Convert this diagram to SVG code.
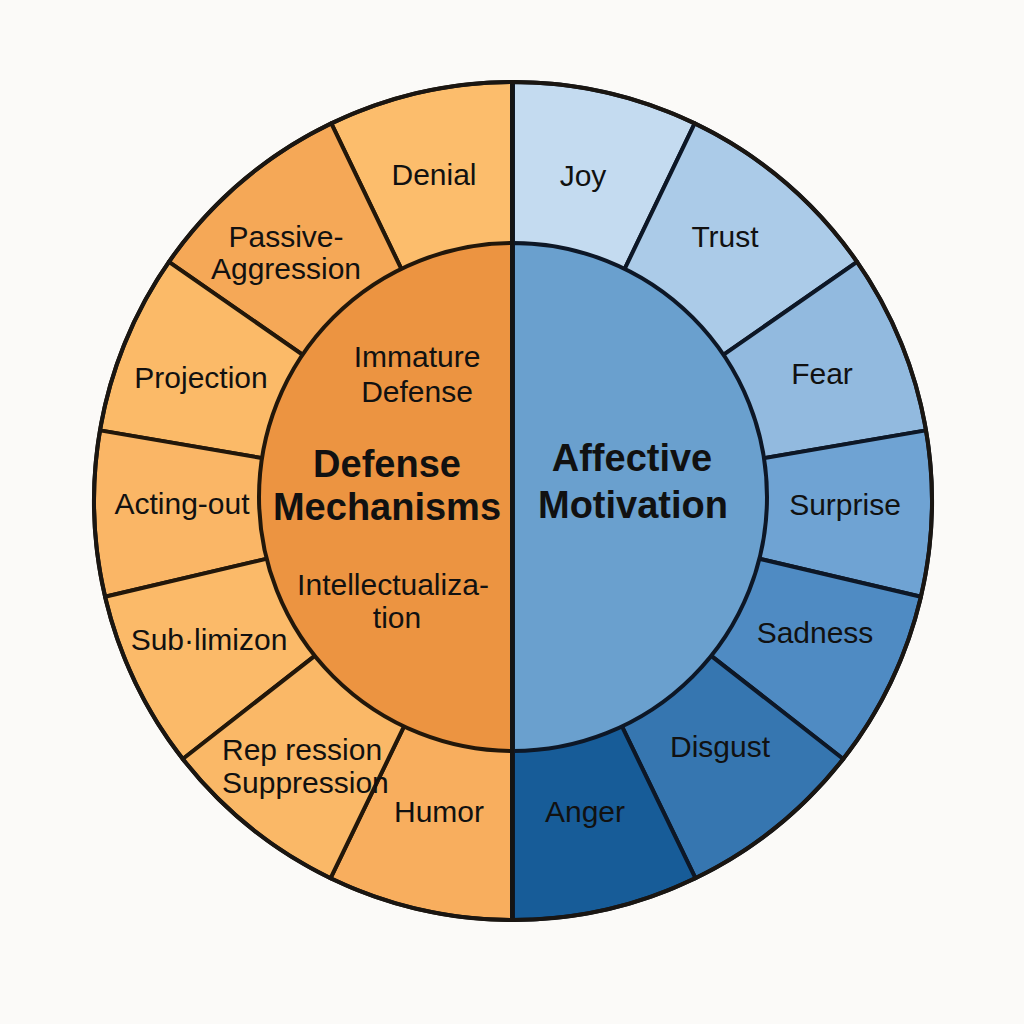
<svg xmlns="http://www.w3.org/2000/svg" width="1024" height="1024" viewBox="0 0 1024 1024">
  <style>
    .seg { stroke-width: 4; stroke-linejoin: round; }
    .warm { stroke: #22170a; }
    .cool { stroke: #0d1726; }
    .lbl { font-family: "Liberation Sans", Arial, sans-serif; font-size: 30px; fill: #111; text-anchor: middle; }
    .start { text-anchor: start; }
    .title { font-family: "Liberation Sans", Arial, sans-serif; font-size: 38px; font-weight: bold; fill: #111; text-anchor: middle; }
  </style>
  <rect width="1024" height="1024" fill="#fbfaf8"/>

  <g id="ring-left">
    <g id="denial">
      <path class="seg warm" fill="#fcbd6c" d="M513,501 L513,82 A419,419 0 0 0 331.3,123.4 Z"/>
      <text class="lbl" x="434" y="185">Denial</text>
    </g>
    <g id="passive-aggression">
      <path class="seg warm" fill="#f5a857" d="M513,501 L331.3,123.4 A419,419 0 0 0 168.9,261.9 Z"/>
      <text class="lbl" x="286" y="247">Passive-</text>
      <text class="lbl" x="286" y="279">Aggression</text>
    </g>
    <g id="projection">
      <path class="seg warm" fill="#fbba68" d="M513,501 L168.9,261.9 A419,419 0 0 0 100,430.4 Z"/>
      <text class="lbl" x="201" y="388">Projection</text>
    </g>
    <g id="acting-out">
      <path class="seg warm" fill="#fab666" d="M513,501 L100,430.4 A419,419 0 0 0 105.1,596.7 Z"/>
      <text class="lbl" x="182" y="514">Acting-out</text>
    </g>
    <g id="sublimizon">
      <path class="seg warm" fill="#fbba69" d="M513,501 L105.1,596.7 A419,419 0 0 0 182.8,759 Z"/>
      <text class="lbl" x="209" y="650">Sub·limizon</text>
    </g>
    <g id="humor">
      <path class="seg warm" fill="#f8ae5e" d="M513,501 L330.6,878.2 A419,419 0 0 0 513,920 Z"/>
      <text class="lbl" x="439" y="822">Humor</text>
    </g>
    <g id="repression">
      <path class="seg warm" fill="#fab867" d="M513,501 L182.8,759 A419,419 0 0 0 330.6,878.2 Z"/>
      <text class="lbl start" x="222" y="760">Rep ression</text>
      <text class="lbl start" x="222" y="793">Suppression</text>
    </g>
  </g>

  <g id="ring-right">
    <g id="joy">
      <path class="seg cool" fill="#c4dbf0" d="M513,501 L513,82 A419,419 0 0 1 694.7,123.4 Z"/>
      <text class="lbl" x="583" y="186">Joy</text>
    </g>
    <g id="trust">
      <path class="seg cool" fill="#abcbe8" d="M513,501 L694.7,123.4 A419,419 0 0 1 857.1,261.9 Z"/>
      <text class="lbl" x="725" y="247">Trust</text>
    </g>
    <g id="fear">
      <path class="seg cool" fill="#92badf" d="M513,501 L857.1,261.9 A419,419 0 0 1 926,430.4 Z"/>
      <text class="lbl" x="822" y="384">Fear</text>
    </g>
    <g id="surprise">
      <path class="seg cool" fill="#6fa3d3" d="M513,501 L926,430.4 A419,419 0 0 1 920.9,596.7 Z"/>
      <text class="lbl" x="845" y="515">Surprise</text>
    </g>
    <g id="sadness">
      <path class="seg cool" fill="#4f8bc3" d="M513,501 L920.9,596.7 A419,419 0 0 1 843.2,759 Z"/>
      <text class="lbl" x="815" y="643">Sadness</text>
    </g>
    <g id="disgust">
      <path class="seg cool" fill="#3676b0" d="M513,501 L843.2,759 A419,419 0 0 1 695.4,878.2 Z"/>
      <text class="lbl" x="720" y="757">Disgust</text>
    </g>
    <g id="anger">
      <path class="seg cool" fill="#175c98" d="M513,501 L695.4,878.2 A419,419 0 0 1 513,920 Z"/>
      <text class="lbl" x="585" y="822">Anger</text>
    </g>
  </g>

  <g id="defense-mechanisms">
    <path class="seg warm" fill="#ec9441" d="M513,243 A254,254 0 0 0 513,751 Z"/>
    <text class="lbl" x="417" y="367">Immature</text>
    <text class="lbl" x="417" y="402">Defense</text>
    <text class="title" x="387" y="477">Defense</text>
    <text class="title" x="387" y="520">Mechanisms</text>
    <text class="lbl" x="393" y="595">Intellectualiza-</text>
    <text class="lbl" x="397" y="628">tion</text>
  </g>

  <g id="affective-motivation">
    <path class="seg cool" fill="#6aa0ce" d="M513,243 A254,254 0 0 1 513,751 Z"/>
    <text class="title" x="632" y="471">Affective</text>
    <text class="title" x="633" y="518">Motivation</text>
  </g>

  <g id="connectors">
    <line x1="512" y1="82" x2="512" y2="920" stroke="#141414" stroke-width="4"/>
    <circle cx="513" cy="501" r="419" fill="none" stroke="#1a1612" stroke-width="4"/>
  </g>
</svg>
